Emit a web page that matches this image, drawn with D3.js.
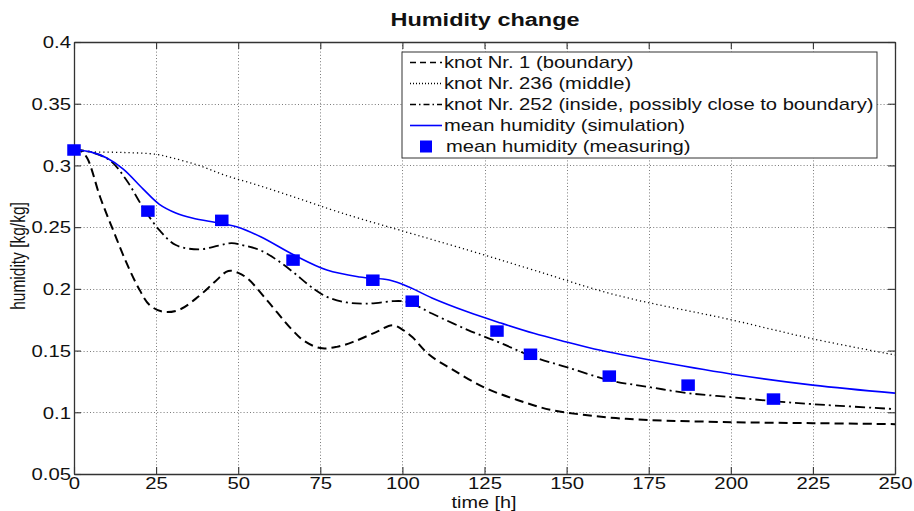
<!DOCTYPE html>
<html>
<head>
<meta charset="utf-8">
<script src="https://cdn.jsdelivr.net/npm/d3@7"></script>
<style>
  html, body { margin: 0; padding: 0; background: #fff; }
  svg { display: block; font-family: "Liberation Sans", Arial, sans-serif; }
</style>
</head>
<body>
<svg id="chart" width="914" height="511"></svg>
<script>
// ---------------- data ----------------
const xTicks = [0, 25, 50, 75, 100, 125, 150, 175, 200, 225, 250];
const yTicks = [0.05, 0.1, 0.15, 0.2, 0.25, 0.3, 0.35, 0.4];
const yTickLabels = ["0.05", "0.1", "0.15", "0.2", "0.25", "0.3", "0.35", "0.4"];

// knot Nr. 1 (boundary) - dashed
const knot1Time = [0, 2, 4, 8, 12, 16, 20, 23, 27, 32, 38, 43, 47, 50, 53, 59, 66, 70, 75, 80, 85, 92, 97, 100, 103, 108, 115, 125, 135, 145, 155, 165, 175, 200, 225, 250];
const knot1Val  = [0.313, 0.312, 0.306, 0.274, 0.247, 0.221, 0.199, 0.187, 0.1815, 0.183, 0.194, 0.206, 0.2145, 0.213, 0.208, 0.19, 0.168, 0.158, 0.152, 0.153, 0.157, 0.165, 0.1705, 0.167, 0.161, 0.147, 0.135, 0.12, 0.11, 0.102, 0.098, 0.0953, 0.0937, 0.092, 0.0912, 0.0904];

// knot Nr. 236 (middle) - dotted
const knot236Time = [0, 5, 15, 25, 30, 38, 46, 56, 67, 78, 87, 99, 120, 140, 165, 200, 225, 250];
const knot236Val  = [0.312, 0.311, 0.3105, 0.309, 0.306, 0.300, 0.292, 0.284, 0.2744, 0.2645, 0.257, 0.2477, 0.2314, 0.2152, 0.195, 0.175, 0.1595, 0.1464];

// knot Nr. 252 (inside) - dash-dot
const knot252Time = [0, 5, 11, 16, 21, 26, 31, 38, 44, 48, 52, 57, 62, 67, 72, 77, 83, 89, 97, 100, 103, 109, 120, 130, 140, 150, 163, 175, 187, 200, 213, 225, 250];
const knot252Val  = [0.313, 0.311, 0.304, 0.288, 0.266, 0.2476, 0.2355, 0.232, 0.235, 0.237, 0.235, 0.231, 0.223, 0.213, 0.202, 0.1935, 0.189, 0.188, 0.19, 0.19, 0.188, 0.18, 0.1666, 0.156, 0.1447, 0.1366, 0.126, 0.1205, 0.1155, 0.1123, 0.109, 0.1066, 0.1026];

// mean humidity (simulation) - blue line
const simTime = [0, 5, 10, 15, 21, 26, 31, 36, 44, 50, 57, 67, 77, 87, 96, 102, 109, 120, 130, 140, 150, 160, 175, 200, 225, 250];
const simVal  = [0.3125, 0.311, 0.306, 0.297, 0.281, 0.2685, 0.2615, 0.2574, 0.2533, 0.25, 0.242, 0.2274, 0.2152, 0.2096, 0.2071, 0.2015, 0.1926, 0.1812, 0.1723, 0.164, 0.157, 0.1504, 0.1425, 0.131, 0.122, 0.1155];

// mean humidity (measuring) - blue squares
const measTime = [0, 22.5, 45, 66.7, 91, 103, 128.8, 139, 163, 187, 213];
const measVal  = [0.3125, 0.263, 0.2555, 0.2233, 0.207, 0.190, 0.1658, 0.147, 0.1293, 0.122, 0.1107];

const legendLabels = [
  "knot Nr. 1 (boundary)",
  "knot Nr. 236 (middle)",
  "knot Nr. 252 (inside, possibly close to boundary)",
  "mean humidity (simulation)",
  "mean humidity (measuring)"
];
const titleText = "Humidity change";
const xLabelText = "time [h]";
const yLabelText = "humidity [kg/kg]";

// ---------------- layout ----------------
const S = 1.27; // horizontal text stretch of the reference
const L = 74, R = 895, T = 42, B = 474;
const svg = d3.select("#chart");
const x = d3.scaleLinear().domain([0, 250]).range([L, R]);
const y = d3.scaleLinear().domain([0.05, 0.4]).range([B, T]);

function stretchText(sel) {
  sel.each(function () {
    const t = d3.select(this);
    const tx = +t.attr("x") || 0, ty = +t.attr("y") || 0;
    t.attr("x", 0).attr("y", 0).attr("transform", `translate(${tx},${ty}) scale(${S},1)`);
  });
}

// grid
const grid = svg.append("g").attr("stroke", "#7a7a7a").attr("stroke-width", 1).attr("stroke-dasharray", "1,2.2");
grid.selectAll("line.gx").data(xTicks.slice(1, -1)).join("line")
  .attr("x1", d => Math.round(x(d)) + 0.5).attr("x2", d => Math.round(x(d)) + 0.5)
  .attr("y1", T).attr("y2", B);
grid.selectAll("line.gy").data(yTicks.slice(1, -1)).join("line")
  .attr("y1", d => Math.round(y(d)) + 0.5).attr("y2", d => Math.round(y(d)) + 0.5)
  .attr("x1", L).attr("x2", R);

// axes
const axColor = "#333";
const xAxis = svg.append("g").attr("transform", `translate(0,${B})`)
  .call(d3.axisBottom(x).tickValues(xTicks).tickSizeInner(-7).tickSizeOuter(0).tickPadding(4).tickFormat(d3.format("d")));
const xAxisTop = svg.append("g").attr("transform", `translate(0,${T})`)
  .call(d3.axisTop(x).tickValues(xTicks).tickSizeInner(-7).tickSizeOuter(0).tickFormat(""));
const yAxis = svg.append("g").attr("transform", `translate(${L},0)`)
  .call(d3.axisLeft(y).tickValues(yTicks).tickSizeInner(-7).tickSizeOuter(0).tickPadding(3).tickFormat((d, i) => yTickLabels[i]));
const yAxisRight = svg.append("g").attr("transform", `translate(${R},0)`)
  .call(d3.axisRight(y).tickValues(yTicks).tickSizeInner(-7).tickSizeOuter(0).tickFormat(""));

[xAxis, xAxisTop, yAxis, yAxisRight].forEach(a => {
  a.select(".domain").attr("stroke", axColor).attr("stroke-width", 1.3);
  a.selectAll(".tick line").attr("stroke", axColor).attr("stroke-width", 1.1);
  a.attr("font-family", null).attr("font-size", null);
});
xAxis.selectAll(".tick text").attr("y", 4).attr("dy", "0.71em")
  .attr("font-size", 16).attr("fill", "#111").style("font-family", "'Liberation Sans', Arial, sans-serif");
stretchText(xAxis.selectAll(".tick text"));
yAxis.selectAll(".tick text").attr("x", -3).attr("dy", "0.36em")
  .attr("font-size", 16).attr("fill", "#111").style("font-family", "'Liberation Sans', Arial, sans-serif");
stretchText(yAxis.selectAll(".tick text"));

// series lines
const line = d3.line().x(d => x(d[0])).y(d => y(d[1])).curve(d3.curveCatmullRom.alpha(0.5));
const zip = (a, b) => a.map((v, i) => [v, b[i]]);

svg.append("clipPath").attr("id", "plotclip")
  .append("rect").attr("x", L).attr("y", T).attr("width", R - L).attr("height", B - T);
const plot = svg.append("g").attr("clip-path", "url(#plotclip)");

const seriesStyles = [
  { data: zip(knot1Time, knot1Val), stroke: "#000", width: 2, dash: "9,5" },
  { data: zip(knot236Time, knot236Val), stroke: "#000", width: 1.3, dash: "1.2,3" },
  { data: zip(knot252Time, knot252Val), stroke: "#000", width: 1.8, dash: "10,4,2,4" },
  { data: zip(simTime, simVal), stroke: "#0000ff", width: 1.6, dash: null }
];
seriesStyles.forEach(s => {
  plot.append("path").datum(s.data)
    .attr("d", line).attr("fill", "none")
    .attr("stroke", s.stroke).attr("stroke-width", s.width)
    .attr("stroke-dasharray", s.dash);
});

// measurement squares
const mw = 13.5, mh = 11.5;
svg.append("g").selectAll("rect").data(zip(measTime, measVal)).join("rect")
  .attr("x", d => x(d[0]) - mw / 2).attr("y", d => y(d[1]) - mh / 2)
  .attr("width", mw).attr("height", mh).attr("fill", "#0000ff");

// legend
const lg = svg.append("g");
lg.append("rect").attr("x", 402).attr("y", 52).attr("width", 475).attr("height", 106)
  .attr("fill", "#fff").attr("stroke", "#333").attr("stroke-width", 1);
const rowBase = [68, 89, 110, 131, 152];
legendLabels.forEach((lab, i) => {
  const cy = rowBase[i] - 5.5;
  if (i < 4) {
    const s = seriesStyles[i];
    lg.append("line").attr("x1", 410).attr("x2", 442).attr("y1", cy).attr("y2", cy)
      .attr("stroke", s.stroke).attr("stroke-width", Math.min(s.width, 1.6))
      .attr("stroke-dasharray", i === 0 ? "6,4" : (i === 1 ? "1,2" : (i === 2 ? "6,3,1.5,3" : null)));
  } else {
    lg.append("rect").attr("x", 426 - 6).attr("y", cy - 6).attr("width", 12).attr("height", 12).attr("fill", "#0000ff");
  }
  const t = lg.append("text").attr("x", i < 4 ? 444 : 446).attr("y", rowBase[i])
    .attr("font-size", 15.9).attr("fill", "#111").text(lab);
  stretchText(t);
});

// title and labels
const title = svg.append("text").attr("x", 485).attr("y", 26).attr("text-anchor", "middle")
  .attr("font-size", 18.5).attr("font-weight", "bold").attr("fill", "#111").text(titleText);
stretchText(title);
const xl = svg.append("text").attr("x", 484).attr("y", 507.5).attr("text-anchor", "middle")
  .attr("font-size", 15.6).attr("fill", "#111").text(xLabelText);
stretchText(xl);
svg.append("text")
  .attr("transform", `translate(25,256) scale(${S},1) rotate(-90)`)
  .attr("text-anchor", "middle").attr("font-size", 15.5).attr("fill", "#111").text(yLabelText);
</script>
</body>
</html>
